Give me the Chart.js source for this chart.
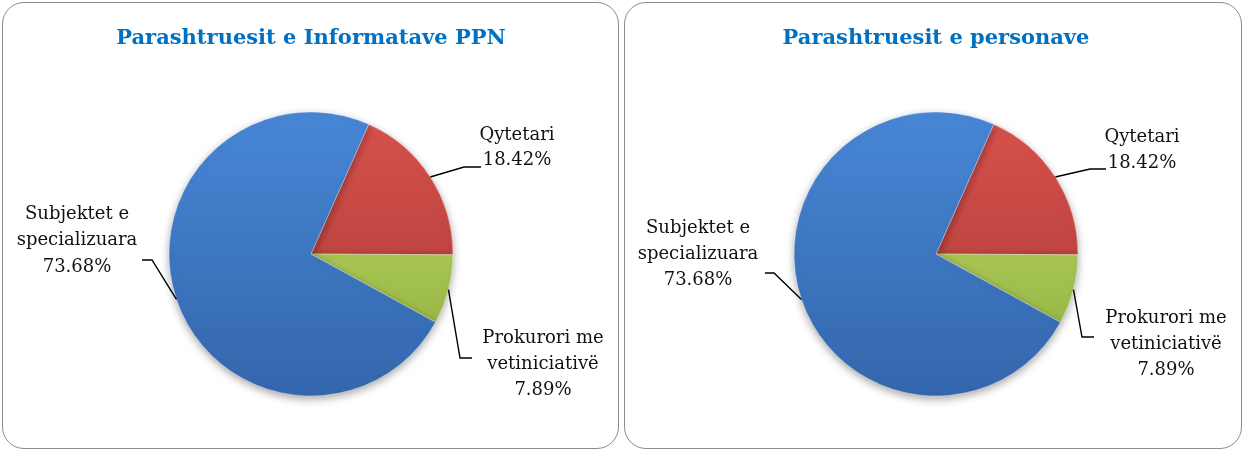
<!DOCTYPE html>
<html><head><meta charset="utf-8">
<script src="https://cdn.jsdelivr.net/npm/chart.js@4/dist/chart.umd.min.js"></script>
<style>
html,body{margin:0;padding:0;background:#fff;width:1246px;height:450px;overflow:hidden}
.panel{position:absolute;top:2px;height:447px;border:1.5px solid #8c8c8c;border-radius:22px;box-sizing:border-box;background:#fff}
.wrap{position:absolute;top:0;height:450px}
canvas{display:block}
</style></head><body>
<div class="panel" style="left:2px;width:617px"></div>
<div class="panel" style="left:624px;width:618px"></div>
<div class="wrap" style="left:0;width:620px"><canvas id="c1" width="620" height="450"></canvas></div>
<div class="wrap" style="left:624px;width:622px"><canvas id="c2" width="622" height="450"></canvas></div>
<script>
// ---- data ----
const categories = ['Qytetari', 'Prokurori me vetiniciativë', 'Subjektet e specializuara'];
const labelLines = [['Qytetari'], ['Prokurori me', 'vetiniciativë'], ['Subjektet e', 'specializuara']];
const valuesInformata = [18.42, 7.89, 73.68];
const valuesPersona = [18.42, 7.89, 73.68];
const titleInformata = 'Parashtruesit e Informatave PPN';
const titlePersona = 'Parashtruesit e personave';

// ---- styles ----
const sliceTop = ['#d9524d', '#c6df6c', '#4787d6'];
const sliceBottom = ['#a63734', '#8aab3a', '#3466ac'];

function gradFill(context) {
  const chart = context.chart;
  const a = chart.chartArea;
  const i = context.dataIndex;
  if (!a) return sliceTop[i];
  const g = chart.ctx.createLinearGradient(0, a.top, 0, a.bottom);
  g.addColorStop(0, sliceTop[i]);
  g.addColorStop(1, sliceBottom[i]);
  return g;
}

const shadowPlugin = {
  id: 'pieShadow',
  beforeDatasetsDraw(chart) {
    const ctx = chart.ctx;
    ctx.save();
    ctx.shadowColor = 'rgba(0,0,0,0.35)';
    ctx.shadowBlur = 8;
    ctx.shadowOffsetY = 3;
  },
  afterDatasetsDraw(chart) { chart.ctx.restore(); }
};

const leaderPlugin = {
  id: 'leaders',
  afterDraw(chart, args, opts) {
    const ctx = chart.ctx;
    const meta = chart.getDatasetMeta(0);
    const data = chart.data.datasets[0].data;
    meta.data.forEach((arc, i) => {
      const p = arc.getProps(['x', 'y', 'startAngle', 'endAngle', 'outerRadius'], true);
      const mid = (p.startAngle + p.endAngle) / 2;
      const sx = p.x + Math.cos(mid) * p.outerRadius;
      const sy = p.y + Math.sin(mid) * p.outerRadius;
      const L = opts.layout[i];
      ctx.save();
      ctx.strokeStyle = '#000';
      ctx.lineWidth = 1.4;
      ctx.beginPath();
      ctx.moveTo(sx, sy);
      ctx.lineTo(p.x + L.elbow[0], p.y + L.elbow[1]);
      ctx.lineTo(p.x + L.end[0], p.y + L.end[1]);
      ctx.stroke();
      ctx.font = '18px "DejaVu Serif"';
      ctx.fillStyle = '#111';
      ctx.textAlign = 'center';
      ctx.textBaseline = 'middle';
      const lines = labelLines[i].concat([data[i].toFixed(2) + '%']);
      lines.forEach((t, k) => ctx.fillText(t, p.x + L.text[0], p.y + L.text[1] + k * L.lh));
      ctx.restore();
    });
  }
};

function makeChart(id, values, title, pad, layout) {
  return new Chart(document.getElementById(id), {
    type: 'pie',
    data: {
      labels: categories,
      datasets: [{
        data: values,
        backgroundColor: gradFill,
        borderColor: 'rgba(255,255,255,0.35)',
        borderWidth: 1
      }]
    },
    options: {
      responsive: false,
      animation: false,
      rotation: 24,
      radius: 142,
      layout: { padding: pad },
      plugins: {
        legend: { display: false },
        tooltip: { enabled: false },
        title: {
          display: true,
          text: title,
          color: '#0070C0',
          font: { family: '"DejaVu Serif"', size: 21, weight: 'bold' },
          padding: { top: 26, bottom: 60.8 }
        },
        leaders: { layout: layout }
      }
    },
    plugins: [shadowPlugin, leaderPlugin]
  });
}

makeChart('c1', valuesInformata, titleInformata,
  { left: 20, right: 18, top: 0, bottom: 54 },
  [
    { elbow: [153, -87], end: [170, -87], text: [206, -119], lh: 25 },
    { elbow: [149, 104], end: [161, 104], text: [232, 84], lh: 26 },
    { elbow: [-159, 6], end: [-169, 6], text: [-234, -40], lh: 26.5 }
  ]);

makeChart('c2', valuesPersona, titlePersona,
  { left: 20, right: 18, top: 0, bottom: 54 },
  [
    { elbow: [154, -85], end: [170, -85], text: [206, -117], lh: 26 },
    { elbow: [146, 83], end: [158, 83], text: [230, 64], lh: 26 },
    { elbow: [-162, 19], end: [-171, 19], text: [-238, -26], lh: 26 }
  ]);
</script>
</body></html>
